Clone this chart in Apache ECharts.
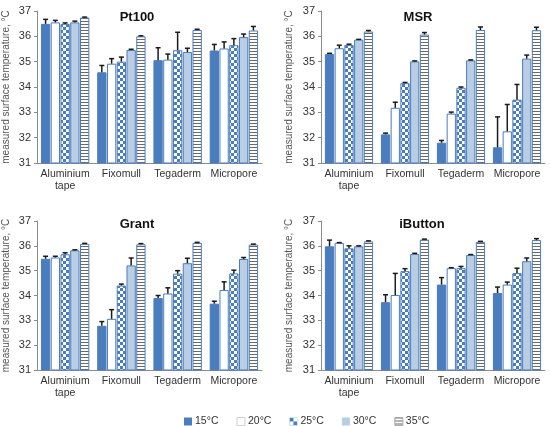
<!DOCTYPE html>
<html>
<head>
<meta charset="utf-8">
<script src="https://cdn.jsdelivr.net/npm/echarts@6/dist/echarts.min.js"></script>
<style>html,body{margin:0;padding:0;background:#fff}#c{width:551px;height:426px}</style>
</head>
<body>
<div id="c"></div>
<script>
// ---- data ----
const categories = ['Aluminium\ntape', 'Fixomull', 'Tegaderm', 'Micropore'];
const temps = ['15°C', '20°C', '25°C', '30°C', '35°C'];
const panelTitles = ['Pt100', 'MSR', 'Grant', 'iButton'];
const yMin = 31, yMax = 37, yStep = 1;
const yName = 'measured surface temperature, °C';

// means per temperature (rows 15..35 °C), columns = categories
const pt100Mean = [
  [36.49, 34.58, 35.06, 35.44],
  [36.55, 34.92, 35.08, 35.52],
  [36.49, 35.00, 35.45, 35.65],
  [36.55, 35.46, 35.38, 35.97],
  [36.74, 36.00, 36.25, 36.23]
];
const pt100Err = [
  [0.18, 0.27, 0.49, 0.24],
  [0.08, 0.20, 0.22, 0.26],
  [0.04, 0.18, 0.71, 0.26],
  [0.05, 0.03, 0.15, 0.12],
  [0.02, 0.02, 0.03, 0.16]
];
const msrMean = [
  [35.30, 32.13, 31.80, 31.62],
  [35.53, 33.18, 32.95, 32.25],
  [35.66, 34.15, 33.97, 33.50],
  [35.87, 35.01, 35.05, 35.12],
  [36.19, 36.07, 36.25, 36.24]
];
const msrErr = [
  [0.03, 0.05, 0.09, 1.20],
  [0.12, 0.22, 0.06, 1.06],
  [0.03, 0.03, 0.03, 0.60],
  [0.01, 0.02, 0.02, 0.14],
  [0.04, 0.08, 0.12, 0.12]
];
const grantMean = [
  [35.48, 32.78, 33.90, 33.67],
  [35.53, 33.06, 34.08, 34.22],
  [35.66, 34.40, 34.88, 34.89],
  [35.82, 35.21, 35.30, 35.47],
  [36.08, 36.06, 36.12, 36.05]
];
const grantErr = [
  [0.10, 0.17, 0.10, 0.10],
  [0.05, 0.37, 0.23, 0.33],
  [0.06, 0.06, 0.12, 0.13],
  [0.02, 0.30, 0.20, 0.06],
  [0.02, 0.03, 0.02, 0.02]
];
const ibuttonMean = [
  [35.98, 33.73, 34.44, 34.10],
  [36.12, 34.02, 35.10, 34.44],
  [35.90, 34.98, 35.10, 34.90],
  [35.98, 35.67, 35.63, 35.38],
  [36.18, 36.25, 36.16, 36.23]
];
const ibuttonErr = [
  [0.25, 0.30, 0.28, 0.24],
  [0.01, 0.87, 0.02, 0.10],
  [0.10, 0.10, 0.07, 0.20],
  [0.02, 0.03, 0.02, 0.13],
  [0.02, 0.02, 0.02, 0.06]
];

// ---- styles ----
const BLUE = '#4a7dbd';
const BORDER = '#4a7dbd';
const LIGHT = '#b9cde5';
function checker(s) {
  const c = document.createElement('canvas'); c.width = 2 * s; c.height = 2 * s;
  const g = c.getContext('2d');
  g.fillStyle = '#fff'; g.fillRect(0, 0, 2 * s, 2 * s);
  g.fillStyle = BLUE; g.fillRect(0, 0, s, s); g.fillRect(s, s, s, s);
  return c;
}
function stripes() {
  const c = document.createElement('canvas'); c.width = 4; c.height = 3;
  const g = c.getContext('2d');
  g.fillStyle = '#fff'; g.fillRect(0, 0, 4, 3);
  g.fillStyle = '#6a6a6a'; g.fillRect(0, 0, 4, 1);
  return c;
}
const fills = [
  BLUE, '#ffffff',
  { image: checker(3), repeat: 'repeat' },
  LIGHT,
  { image: stripes(), repeat: 'repeat' }
];
const legendStyles = [
  { color: BLUE, borderWidth: 0 },
  { color: '#ffffff', borderColor: '#d0d0d0', borderWidth: 1 },
  { color: { image: checker(4), repeat: 'repeat' }, borderWidth: 0 },
  { color: LIGHT, borderWidth: 0 },
  { color: { image: stripes(), repeat: 'repeat' }, borderColor: '#aaaaaa', borderWidth: 1 }
];

const panels = [
  { mean: pt100Mean, err: pt100Err, grid: { left: 36, top: 11, width: 226, height: 152 }, title: [132, 6], gap: 26 },
  { mean: msrMean, err: msrErr, grid: { left: 321, top: 11, width: 224, height: 152 }, title: [413, 6], gap: 27 },
  { mean: grantMean, err: grantErr, grid: { left: 36, top: 221, width: 226, height: 149 }, title: [132, 213], gap: 26 },
  { mean: ibuttonMean, err: ibuttonErr, grid: { left: 321, top: 221, width: 224, height: 149 }, title: [417, 213], gap: 27 }
];

const CAT_GAP = 0.14, BAR_GAP = 0.05;
const FONT = 'Liberation Sans, Arial, sans-serif';

const option = {
  animation: false,
  textStyle: { fontFamily: FONT },
  title: panels.map((p, i) => ({
    text: panelTitles[i], left: p.title[0], top: p.title[1], textAlign: 'center',
    textStyle: { fontSize: 13, fontWeight: 'bold', color: '#111', fontFamily: FONT }
  })),
  legend: {
    data: temps.map((t, i) => ({ name: t, icon: 'rect', itemStyle: legendStyles[i] })),
    left: 179, top: 411, itemWidth: 8, itemHeight: 8, itemGap: 18,
    textStyle: { fontSize: 10.5, color: '#333', padding: [0, 0, 0, -2] }
  },
  grid: panels.map(p => p.grid),
  xAxis: panels.map((p, i) => ({
    type: 'category', gridIndex: i, data: categories,
    axisLine: { lineStyle: { color: '#8c8c8c' } }, axisTick: { show: false },
    axisLabel: { fontSize: 10.5, color: '#333', margin: 5, lineHeight: 12, interval: 0 }
  })),
  yAxis: panels.map((p, i) => ({
    type: 'value', gridIndex: i, min: yMin, max: yMax, interval: yStep,
    name: yName, nameLocation: 'middle', nameRotate: 90, nameGap: p.gap,
    nameTextStyle: { fontSize: 10, color: '#555' },
    axisLine: { show: true, lineStyle: { color: '#8c8c8c' } },
    axisTick: { show: true, length: 3, lineStyle: { color: '#8c8c8c' } },
    splitLine: { show: false },
    axisLabel: { fontSize: 11, color: '#333', margin: 6 }
  })),
  series: []
};

panels.forEach((p, pi) => {
  temps.forEach((t, ti) => {
    option.series.push({
      type: 'bar', name: t, xAxisIndex: pi, yAxisIndex: pi,
      data: p.mean[ti], barGap: (BAR_GAP * 100) + '%', barCategoryGap: (CAT_GAP * 100) + '%',
      itemStyle: { color: fills[ti], borderColor: BORDER, borderWidth: 1 },
      emphasis: { disabled: true }
    });
  });
  const errData = [];
  temps.forEach((t, ti) => {
    categories.forEach((c, ci) => errData.push([ci, p.mean[ti][ci], p.err[ti][ci], ti]));
  });
  option.series.push({
    type: 'custom', name: 'err' + pi, xAxisIndex: pi, yAxisIndex: pi, z: 5,
    data: errData, encode: { x: 0, y: 1 },
    renderItem: function (params, api) {
      const ci = api.value(0), m = api.value(1), e = api.value(2), ti = api.value(3);
      const a = api.coord([ci, m]);
      const b = api.coord([ci, m + e]);
      const band = api.size([1, 0])[0];
      const total = band * (1 - CAT_GAP);
      const bw = total / (5 + 4 * BAR_GAP);
      const x = a[0] - total / 2 + ti * bw * (1 + BAR_GAP) + bw / 2;
      const st = { stroke: '#1a1a1a', lineWidth: 1.5 };
      return {
        type: 'group', children: [
          { type: 'line', shape: { x1: x, y1: a[1], x2: x, y2: b[1] }, style: st },
          { type: 'line', shape: { x1: x - 2.5, y1: b[1], x2: x + 2.5, y2: b[1] }, style: st }
        ]
      };
    }
  });
});

const chart = echarts.init(document.getElementById('c'), null, { renderer: 'canvas' });
chart.setOption(option);
</script>
</body>
</html>
